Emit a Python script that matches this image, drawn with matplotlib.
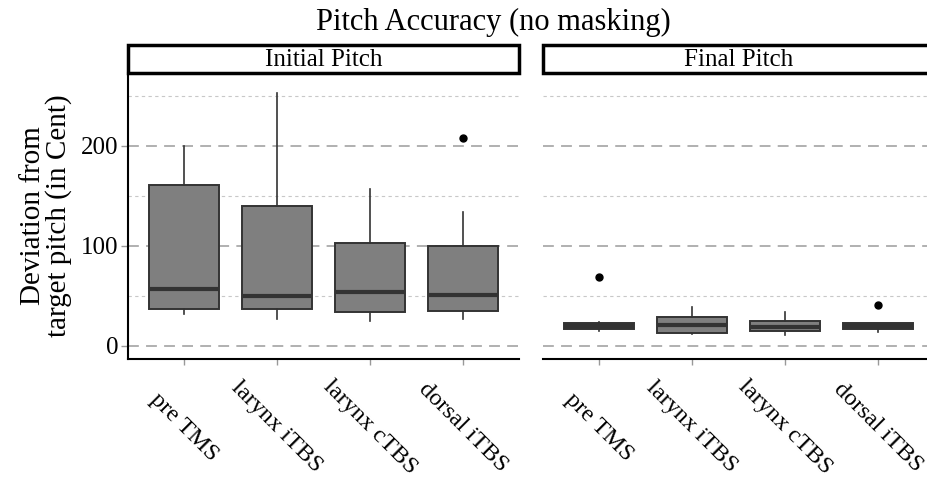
import numpy as np
import matplotlib.pyplot as plt
from matplotlib.patches import Rectangle

plt.rcParams["font.family"] = ["Liberation Serif", "DejaVu Serif"]

conditions = ["pre TMS", "larynx iTBS", "larynx cTBS", "dorsal iTBS"]
panels = ["Initial Pitch", "Final Pitch"]

# five-number summaries per condition (cent), plus outliers
initial_whislo = [32, 27, 25, 27]
initial_q1 = [37, 37, 34, 35]
initial_med = [57, 50, 54, 51]
initial_q3 = [161, 140, 103, 100]
initial_whishi = [200, 253, 157, 134]
initial_fliers = [[], [], [], [208]]

final_whislo = [15, 12, 11, 14]
final_q1 = [17, 13.3, 14.7, 16.7]
final_med = [20, 21, 19.3, 19.7]
final_q3 = [22.7, 28.7, 25.3, 22.7]
final_whishi = [24, 38.7, 33.7, 23]
final_fliers = [[69], [], [], [41]]

y_major = [0, 100, 200]
y_minor = [50, 150, 250]


def make_stats(lo, q1, med, q3, hi, fliers):
    return [
        dict(whislo=lo[i], q1=q1[i], med=med[i], q3=q3[i], whishi=hi[i], fliers=fliers[i])
        for i in range(len(lo))
    ]


stats = [
    make_stats(initial_whislo, initial_q1, initial_med, initial_q3, initial_whishi, initial_fliers),
    make_stats(final_whislo, final_q1, final_med, final_q3, final_whishi, final_fliers),
]

W, H = 928, 480
fig = plt.figure(figsize=(W / 100, H / 100), dpi=100)

panel_left = [128, 543]
panel_w = 391
panel_top, panel_bottom = 73, 359
strip_top = 45

box_color = "#7f7f7f"
edge_color = "#333333"

for p, (name, st) in enumerate(zip(panels, stats)):
    ax = fig.add_axes([panel_left[p] / W, (H - panel_bottom) / H,
                       panel_w / W, (panel_bottom - panel_top) / H])
    pos = np.arange(1, len(conditions) + 1)
    ax.bxp(
        st, positions=pos, widths=0.75, patch_artist=True, showcaps=False,
        boxprops=dict(facecolor=box_color, edgecolor=edge_color, linewidth=1.4),
        medianprops=dict(color=edge_color, linewidth=3.0, solid_capstyle="butt"),
        whiskerprops=dict(color=edge_color, linewidth=1.2),
        flierprops=dict(marker="o", markerfacecolor="black", markeredgecolor="black",
                        markersize=5),
        zorder=3,
    )
    ax.set_xlim(0.4, 4.6)
    ax.set_ylim(-13, 273)

    for y in y_major:
        ax.axhline(y, color="#aaaaaa", linewidth=1.3, dashes=(6, 4), zorder=1)
    for y in y_minor:
        ax.axhline(y, color="#c8c8c8", linewidth=0.8, dashes=(3, 3), zorder=1)

    ax.set_xticks(pos)
    ax.set_xticklabels(conditions, rotation=-45, ha="center", va="center", fontsize=17.5)
    ax.tick_params(axis="x", length=4, width=1, color="#999999", pad=45)

    for side in ["top", "right"]:
        ax.spines[side].set_visible(False)
    ax.spines["bottom"].set_linewidth(1.5)
    ax.spines["bottom"].set_color("black")

    if p == 0:
        ax.set_yticks(y_major)
        ax.set_yticklabels([str(v) for v in y_major], fontsize=18)
        ax.tick_params(axis="y", length=5, width=1, color="#999999", pad=2)
        ax.spines["left"].set_linewidth(1.5)
        ax.spines["left"].set_color("black")
        ax.set_ylabel("Deviation from\ntarget pitch (in Cent)", fontsize=21,
                      linespacing=1.0, labelpad=6)
    else:
        ax.set_yticks([])
        ax.spines["left"].set_visible(False)

    # facet strip above the panel
    strip = Rectangle((panel_left[p] / W, (H - panel_top) / H), panel_w / W,
                      (panel_top - strip_top) / H, transform=fig.transFigure,
                      facecolor="white", edgecolor="black", linewidth=2.5, clip_on=False)
    fig.add_artist(strip)
    fig.text((panel_left[p] + panel_w / 2) / W, (H - (strip_top + panel_top) / 2 - 1) / H, name,
             ha="center", va="center", fontsize=18)

fig.text(493 / W, (H - 22) / H, "Pitch Accuracy (no masking)", ha="center", va="center",
         fontsize=22)

fig.savefig("out.png", dpi=100)
